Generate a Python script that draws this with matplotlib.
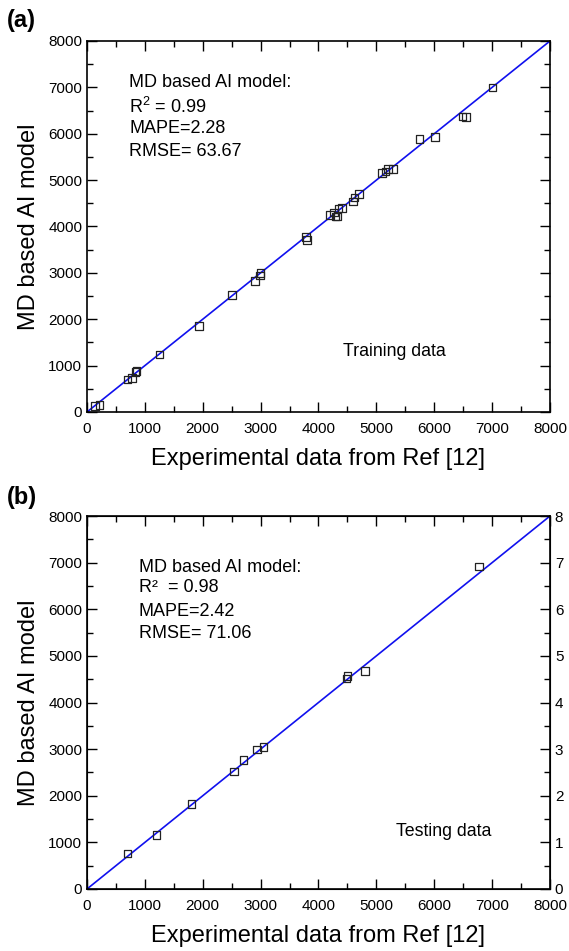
import numpy as np
import matplotlib
matplotlib.use("Agg")
import matplotlib.pyplot as plt
from matplotlib.ticker import MultipleLocator

plt.rcParams['font.family'] = ['Liberation Sans', 'DejaVu Sans']
plt.rcParams['mathtext.fontset'] = 'custom'
plt.rcParams['mathtext.rm'] = 'Liberation Sans'

# training data (experimental, predicted)
train_exp = [133, 219, 697, 778, 841, 853, 1256, 1931, 2501, 2899, 2986, 2997,
             3781, 3798, 4196, 4265, 4294, 4317, 4346, 4403, 4599, 4622, 4703,
             5095, 5159, 5205, 5291, 5746, 6017, 6490, 6548, 7009]
train_pred = [129, 151, 703, 739, 868, 882, 1241, 1858, 2518, 2827, 2942, 2999,
              3774, 3709, 4248, 4305, 4219, 4219, 4384, 4398, 4535, 4621, 4700,
              5152, 5187, 5245, 5245, 5891, 5927, 6372, 6357, 6995]

# testing data
test_exp = [703, 1199, 1804, 2542, 2703, 2934, 3049, 4484, 4501, 4807, 6772]
test_pred = [759, 1153, 1826, 2521, 2772, 2994, 3051, 4512, 4562, 4677, 6919]

line_xy = [0, 8000]

fig = plt.figure(figsize=(5.69, 9.51), dpi=100)
ax1 = fig.add_axes([0.1529, 0.5668, 0.8137, 0.3901])
ax2 = fig.add_axes([0.1529, 0.0652, 0.8137, 0.3922])


def style(ax):
    ax.set_xlim(0, 8000)
    ax.set_ylim(0, 8000)
    ax.xaxis.set_major_locator(MultipleLocator(1000))
    ax.yaxis.set_major_locator(MultipleLocator(1000))
    ax.xaxis.set_minor_locator(MultipleLocator(500))
    ax.yaxis.set_minor_locator(MultipleLocator(500))
    ax.tick_params(which='major', direction='in', length=7, width=1,
                   top=True, right=True, labelsize=11)
    ax.tick_params(which='minor', direction='in', length=4, width=1,
                   top=True, right=True)
    ax.tick_params(axis='x', which='major', pad=7)
    for s in ax.spines.values():
        s.set_linewidth(1.2)
    ax.set_xlabel('Experimental data from Ref [12]', fontsize=17, labelpad=9)
    ax.set_ylabel('MD based AI model', fontsize=17, labelpad=6)


style(ax1)
ax1.plot(line_xy, line_xy, color='#1010ee', lw=1.2, zorder=2)
ax1.scatter(train_exp, train_pred, marker='s', s=30, facecolors='none',
            edgecolors='#222222', linewidths=0.9, zorder=3)
t1 = ['MD based AI model:', 'R$^2$ = 0.99', 'MAPE=2.28', 'RMSE= 63.67']
for txt, yy in zip(t1, [0.889, 0.822, 0.763, 0.701]):
    ax1.text(0.091, yy, txt, transform=ax1.transAxes, fontsize=13, va='center')
ax1.text(0.553, 0.162, 'Training data', transform=ax1.transAxes, fontsize=12.8,
         va='center')

style(ax2)
ax2.plot(line_xy, line_xy, color='#1010ee', lw=1.2, zorder=2)
ax2.scatter(test_exp, test_pred, marker='s', s=30, facecolors='none',
            edgecolors='#222222', linewidths=0.9, zorder=3)
t2 = ['MD based AI model:', 'R\u00b2  = 0.98', 'MAPE=2.42', 'RMSE= 71.06']
for txt, yy in zip(t2, [0.863, 0.807, 0.745, 0.686]):
    ax2.text(0.112, yy, txt, transform=ax2.transAxes, fontsize=13, va='center')
ax2.text(0.667, 0.153, 'Testing data', transform=ax2.transAxes, fontsize=12.8,
         va='center')

ax2r = ax2.twinx()
ax2r.set_ylim(0, 8)
ax2r.yaxis.set_major_locator(MultipleLocator(1))
ax2r.yaxis.set_minor_locator(MultipleLocator(0.5))
ax2r.tick_params(which='major', direction='in', length=7, width=1, labelsize=11)
ax2r.tick_params(which='minor', direction='in', length=4, width=1)

fig.text(0.012, 0.978, '(a)', fontsize=17, fontweight='bold', va='center')
fig.text(0.012, 0.477, '(b)', fontsize=17, fontweight='bold', va='center')

fig.savefig('out.png', dpi=100)
